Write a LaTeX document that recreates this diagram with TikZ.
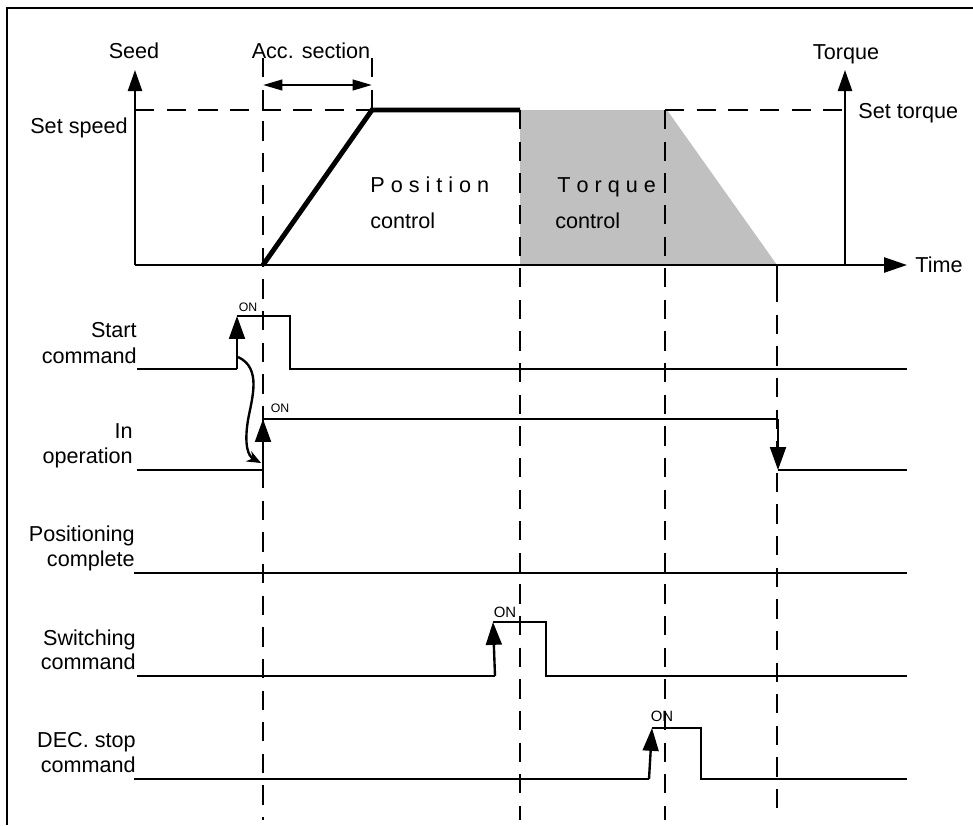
\documentclass[tikz,border=0pt]{standalone}
\usepackage{fontspec}
\setmainfont{Liberation Sans}
\usetikzlibrary{arrows.meta}

\definecolor{shadegray}{RGB}{192,192,192}

\begin{document}
\begin{tikzpicture}[x=0.02cm, y=-0.02cm,
    sig/.style={line width=1.35pt},
    guide/.style={line width=1.6pt, dash pattern=on 11pt off 7pt},
    edge/.style={line width=1.35pt, -{Triangle[length=13pt,width=9pt]}},
    lbl/.style={anchor=base east, inner sep=0pt, font=\fontsize{12.3}{14}\selectfont},
    txt/.style={inner sep=0pt, font=\fontsize{12.3}{14}\selectfont},
    onsmall/.style={inner sep=0pt, font=\fontsize{7}{8}\selectfont},
    onbig/.style={inner sep=0pt, font=\fontsize{8.5}{9}\selectfont}]
    \useasboundingbox (0,0) rectangle (973,825);

    % Frame
    \draw[line width=1.7pt] (7,825) -- (7,8) -- (973,8);

    % Torque control region
    \fill[shadegray] (520,110) -- (667,110) -- (777,265) -- (520,265) -- cycle;

    % Axes
    \coordinate (orig) at (135,265);
    \coordinate (seedtip) at (135,70);
    \coordinate (timetip) at (907,265);
    \coordinate (tqfoot) at (845,265);
    \coordinate (tqtip) at (845,70);
    \draw[sig, -{Triangle[length=12pt,width=8pt]}] (orig) -- (seedtip);
    \draw[sig, -{Triangle[length=13pt,width=8.5pt]}] (orig) -- (timetip);
    \draw[sig, -{Triangle[length=12pt,width=8pt]}] (tqfoot) -- (tqtip);

    \node[txt, anchor=base] (seed) at (134,58) {Seed};
    \node[txt, anchor=base] (accsec) at (311,58) {Acc. section};
    \node[txt, anchor=base] (torque) at (846,59) {Torque};
    \node[txt, anchor=base east] (setspeed) at (128,133) {Set speed};
    \node[txt, anchor=base west] (settorque) at (858,118) {Set torque};
    \node[txt, anchor=base west] (time) at (915,272) {Time};

    % Dashed guides
    \coordinate (accA) at (263,58);
    \coordinate (accB) at (372,58);
    \coordinate (spd) at (372,110);
    \coordinate (tqA) at (520,110);
    \coordinate (tqB) at (665,110);
    \coordinate (stp) at (777,283);
    \draw[guide] (135,110) -- (spd);
    \draw[guide] (tqB) -- (845,110);
    \draw[guide] (accA) -- (263,820);
    \draw[guide] (accB) -- (spd);
    \draw[guide] (tqA) -- (520,820);
    \draw[guide] (tqB) -- (665,820);
    \draw[sig] (777,265) -- (stp);
    \draw[guide] (stp) -- (777,820);

    % Acceleration section
    \draw[sig, {Triangle[length=11pt,width=6pt]}-{Triangle[length=11pt,width=6pt]}]
        (263,85) -- (372,85);

    % Speed profile
    \draw[line width=2.8pt] (263,265) -- (spd) -- (tqA);

    \node[txt, anchor=base west] (posA) at (370,192) {P\ o\ s\ i\ t\ i\ o\ n};
    \node[txt, anchor=base west] (posB) at (370,228) {control};
    \node[txt, anchor=base west] (trqA) at (557,192) {T\ o\ r\ q\ u\ e};
    \node[txt, anchor=base west] (trqB) at (555,228) {control};

    % Start command
    \node[lbl] (startA) at (137,337) {Start};
    \node[lbl] (startB) at (137,363) {command};
    \draw[sig] (137,369) -- (237,369);
    \draw[edge] (237,369) -- (237,316);
    \draw[sig] (237,316) -- (290,316) -- (290,369) -- (907,369);
    \node[onsmall] (onstart) at (248,307) {ON};

    % In operation
    \node[lbl] (inopA) at (133,438) {In};
    \node[lbl] (inopB) at (133,463) {operation};
    \draw[sig] (137,470) -- (263,470);
    \draw[edge] (263,470) -- (263,419);
    \draw[sig] (263,419) -- (778,419);
    \draw[edge] (778,419) -- (778,470);
    \draw[sig] (778,470) -- (907,470);
    \node[onsmall] (oninop) at (280,408) {ON};

    \draw[sig, -{Stealth[length=8pt,width=6.5pt]}] (238,357)
        .. controls (262,368) and (252,398) .. (248,420)
        .. controls (244,445) and (248,456) .. (261,463);

    % Positioning complete
    \node[lbl] (poscA) at (135,541) {Positioning};
    \node[lbl] (poscB) at (135,566) {complete};
    \draw[sig] (134,573) -- (907,573);

    % Switching command
    \node[lbl] (swA) at (136,645) {Switching};
    \node[lbl] (swB) at (136,669) {command};
    \draw[sig] (137,676) -- (495,676);
    \draw[edge] (495,676) -- (493,622);
    \draw[sig] (493,622) -- (546,622) -- (546,676) -- (907,676);
    \node[onbig] (onsw) at (505,612) {ON};

    % DEC. stop command
    \node[lbl] (decA) at (136,747) {DEC. stop};
    \node[lbl] (decB) at (136,772) {command};
    \draw[sig] (134,779) -- (649,779);
    \draw[edge] (649,779) -- (652,728);
    \draw[sig] (652,728) -- (701,728) -- (701,779) -- (907,779);
    \node[onbig] (ondec) at (662,716) {ON};
\end{tikzpicture}
\end{document}
